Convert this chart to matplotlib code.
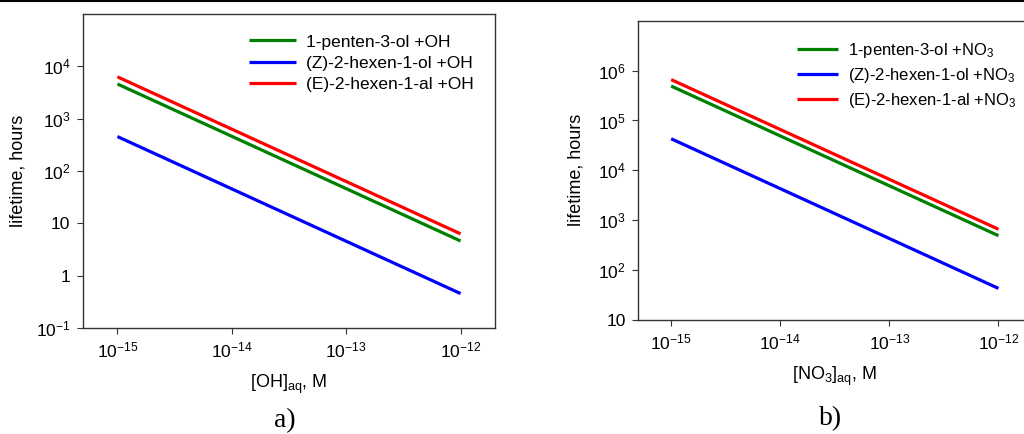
import matplotlib
matplotlib.use("Agg")
import matplotlib.pyplot as plt
from matplotlib.lines import Line2D

plt.rcParams['font.family'] = ['Liberation Sans', 'DejaVu Sans']
plt.rcParams['mathtext.fontset'] = 'custom'
plt.rcParams['mathtext.rm'] = 'Liberation Sans'
plt.rcParams['mathtext.it'] = 'Liberation Sans:italic'
plt.rcParams['mathtext.default'] = 'regular'

# ---- data ----
conc = [1e-15, 1e-14, 1e-13, 1e-12]

oh_pentenol = [4.6e3, 4.6e2, 46, 4.6]
oh_hexenol = [4.55e2, 45.5, 4.55, 0.455]
oh_hexenal = [6.3e3, 6.3e2, 63, 6.3]

no3_pentenol = [4.9e5, 4.9e4, 4.9e3, 4.9e2]
no3_hexenol = [4.3e4, 4.3e3, 4.3e2, 43]
no3_hexenal = [6.6e5, 6.6e4, 6.6e3, 6.6e2]

labels_oh = ['1-penten-3-ol +OH', '(Z)-2-hexen-1-ol +OH', '(E)-2-hexen-1-al +OH']
labels_no3 = ['1-penten-3-ol +NO$_3$', '(Z)-2-hexen-1-ol +NO$_3$', '(E)-2-hexen-1-al +NO$_3$']

xticks = [1e-15, 1e-14, 1e-13, 1e-12]
xticklabels = ['10$^{-15}$', '10$^{-14}$', '10$^{-13}$', '10$^{-12}$']
yticks_a = [1e-1, 1, 10, 1e2, 1e3, 1e4]
yticklabels_a = ['10$^{-1}$', '1', '10', '10$^{2}$', '10$^{3}$', '10$^{4}$']
yticks_b = [10, 1e2, 1e3, 1e4, 1e5, 1e6]
yticklabels_b = ['10', '10$^{2}$', '10$^{3}$', '10$^{4}$', '10$^{5}$', '10$^{6}$']

colors = ['#008000', '#0000ff', '#ff0000']

fig = plt.figure(figsize=(10.24, 4.34), dpi=100)
W, H = 1024, 434

def px_axes(l, t, r, b):
    return fig.add_axes([l / W, 1 - b / H, (r - l) / W, (b - t) / H])

ax1 = px_axes(83, 14, 495, 328)
ax2 = px_axes(638.3, 20.7, 1031.3, 320)

for ax, series, labels, yt, ytl, ylim, xlab in [
    (ax1, [oh_pentenol, oh_hexenol, oh_hexenal], labels_oh, yticks_a, yticklabels_a, (0.1, 1e5), '[OH]$_{aq}$, M'),
    (ax2, [no3_pentenol, no3_hexenol, no3_hexenal], labels_no3, yticks_b, yticklabels_b, (10, 1e7), '[NO$_3$]$_{aq}$, M'),
]:
    for s, c, lab in zip(series, colors, labels):
        ax.plot(conc, s, color=c, lw=2.3, label=lab, solid_capstyle='butt')
    ax.set_xscale('log')
    ax.set_yscale('log')
    ax.set_xlim(5e-16, 2e-12)
    ax.set_ylim(*ylim)
    ax.set_xticks(xticks, xticklabels)
    ax.set_yticks(yt, ytl)
    ax.minorticks_off()
    ax.tick_params(direction='out', length=4, width=0.8, labelsize=12.5, color='#333333', pad=5)
    for sp in ax.spines.values():
        sp.set_color('#333333')
        sp.set_linewidth(1.0)
    ax.set_ylabel('lifetime, hours', fontsize=13)
    ax.set_xlabel(xlab, fontsize=13, labelpad=9)

leg1 = ax1.legend(loc='upper left', bbox_to_anchor=(0.403, 0.935), frameon=False,
                  fontsize=12.5, handlelength=2.7, handletextpad=0.6, labelspacing=0.36,
                  borderpad=0, borderaxespad=0)
leg2 = ax2.legend(loc='upper left', bbox_to_anchor=(0.403, 0.932), frameon=False,
                  fontsize=12, handlelength=2.5, handletextpad=0.55, labelspacing=0.35,
                  borderpad=0, borderaxespad=0)

ax1.yaxis.set_label_coords(-0.136, 0.5)
ax2.yaxis.set_label_coords(-0.136, 0.5)

fig.text(285 / W, 1 - 421 / H, 'a)', fontsize=20, family='Liberation Serif', ha='center', va='center')
fig.text(831 / W, 1 - 419 / H, 'b)', fontsize=20, family='Liberation Serif', ha='center', va='center')

fig.add_artist(Line2D([0, 1], [1 - 1 / H, 1 - 1 / H], transform=fig.transFigure, color='black', lw=1.5))

fig.savefig('out.png', dpi=100)
